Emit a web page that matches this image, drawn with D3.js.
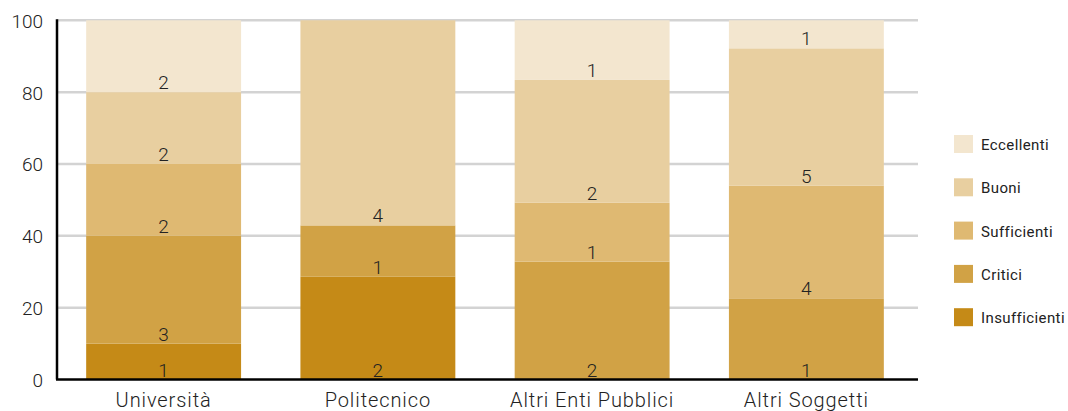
<!DOCTYPE html>
<html>
<head>
<meta charset="utf-8">
<script src="https://cdn.jsdelivr.net/npm/d3@7"></script>
<style>
  html, body { margin: 0; padding: 0; background: #fff; }
  svg { display: block; font-family: Roboto, "Noto Sans", sans-serif; }
</style>
</head>
<body>
<svg id="chart" width="1068" height="411"></svg>
<script>
const categories = ["Università", "Politecnico", "Altri Enti Pubblici", "Altri Soggetti"];
const seriesNames = ["Insufficienti", "Critici", "Sufficienti", "Buoni", "Eccellenti"];
const seriesColors = ["#c58a17", "#d1a245", "#dfb972", "#e8cfa0", "#f3e6cf"];
// percentage heights per series (same order as categories)
const insufficienti = [10, 28.6, 0, 0];
const critici       = [30, 14.3, 32.8, 22.6];
const sufficienti   = [20, 0, 16.4, 31.4];
const buoni         = [20, 57.1, 34.2, 38.2];
const eccellenti    = [20, 0, 16.6, 7.8];
// counts shown as labels
const lblInsufficienti = [1, 2, null, null];
const lblCritici       = [3, 1, 2, 1];
const lblSufficienti   = [2, null, 1, 4];
const lblBuoni         = [2, 4, 2, 5];
const lblEccellenti    = [2, null, 1, 1];
const yTicks = [0, 20, 40, 60, 80, 100];

const values = [insufficienti, critici, sufficienti, buoni, eccellenti];
const labels = [lblInsufficienti, lblCritici, lblSufficienti, lblBuoni, lblEccellenti];

const table = categories.map((c, i) => {
  const row = { cat: c };
  seriesNames.forEach((s, j) => { row[s] = values[j][i]; row["lbl_" + s] = labels[j][i]; });
  return row;
});

const svg = d3.select("#chart");
const x0 = 57, x1 = 918;
const x = d3.scaleBand().domain(categories).range([56.5, 913.5]).paddingInner(0.277).paddingOuter(0.1385);
const y = d3.scaleLinear().domain([0, 100]).range([379.5, 20.3]);

// gridlines
svg.append("g").selectAll("line").data(yTicks.filter(d => d > 0)).join("line")
  .attr("x1", x0).attr("x2", x1)
  .attr("y1", d => y(d)).attr("y2", d => y(d))
  .attr("stroke", "#d3d3d3").attr("stroke-width", 2.5);

const stack = d3.stack().keys(seriesNames);
const stacked = stack(table);

const g = svg.append("g");
stacked.forEach((layer, j) => {
  g.append("g").attr("fill", seriesColors[j]).selectAll("rect").data(layer).join("rect")
    .attr("x", d => x(d.data.cat))
    .attr("width", x.bandwidth())
    .attr("y", d => y(d[1]))
    .attr("height", d => Math.max(0, y(d[0]) - y(d[1])));
});
stacked.forEach((layer, j) => {
  g.append("g").selectAll("text").data(layer.filter(d => d.data["lbl_" + seriesNames[j]] != null)).join("text")
    .attr("x", d => x(d.data.cat) + x.bandwidth() / 2)
    .attr("y", d => y(d[0]) - 3)
    .attr("text-anchor", "middle")
    .attr("font-size", 19).attr("font-weight", 300)
    .attr("fill", "#222")
    .text(d => d.data["lbl_" + seriesNames[j]]);
});

// y axis line
svg.append("line").attr("x1", x0).attr("x2", x0).attr("y1", y(100) - 1).attr("y2", y(0))
  .attr("stroke", "#000").attr("stroke-width", 2.5);
// x axis line
svg.append("line").attr("x1", x0 - 1).attr("x2", x1).attr("y1", y(0)).attr("y2", y(0))
  .attr("stroke", "#000").attr("stroke-width", 2.5);

// y tick labels
svg.append("g").selectAll("text").data(yTicks).join("text")
  .attr("x", 43).attr("y", d => y(d) + 7.5)
  .attr("text-anchor", "end")
  .attr("font-size", 19).attr("font-weight", 300).attr("fill", "#222")
  .text(d => d);

// x labels
svg.append("g").selectAll("text").data(categories).join("text")
  .attr("x", d => x(d) + x.bandwidth() / 2).attr("y", 407)
  .attr("text-anchor", "middle")
  .attr("font-size", 20).attr("font-weight", 300).attr("fill", "#222")
  .attr("letter-spacing", 0.9)
  .text(d => d);

// legend (top to bottom: Eccellenti ... Insufficienti)
const legendItems = seriesNames.map((s, j) => ({ name: s, color: seriesColors[j] })).reverse();
const leg = svg.append("g").selectAll("g").data(legendItems).join("g")
  .attr("transform", (d, i) => `translate(954, ${135 + i * 43.3})`);
leg.append("rect").attr("width", 19).attr("height", 18).attr("fill", d => d.color);
leg.append("text").attr("x", 27).attr("y", 15)
  .attr("font-size", 15).attr("font-weight", 400).attr("fill", "#222")
  .attr("letter-spacing", 0.4)
  .text(d => d.name);
</script>
</body>
</html>
